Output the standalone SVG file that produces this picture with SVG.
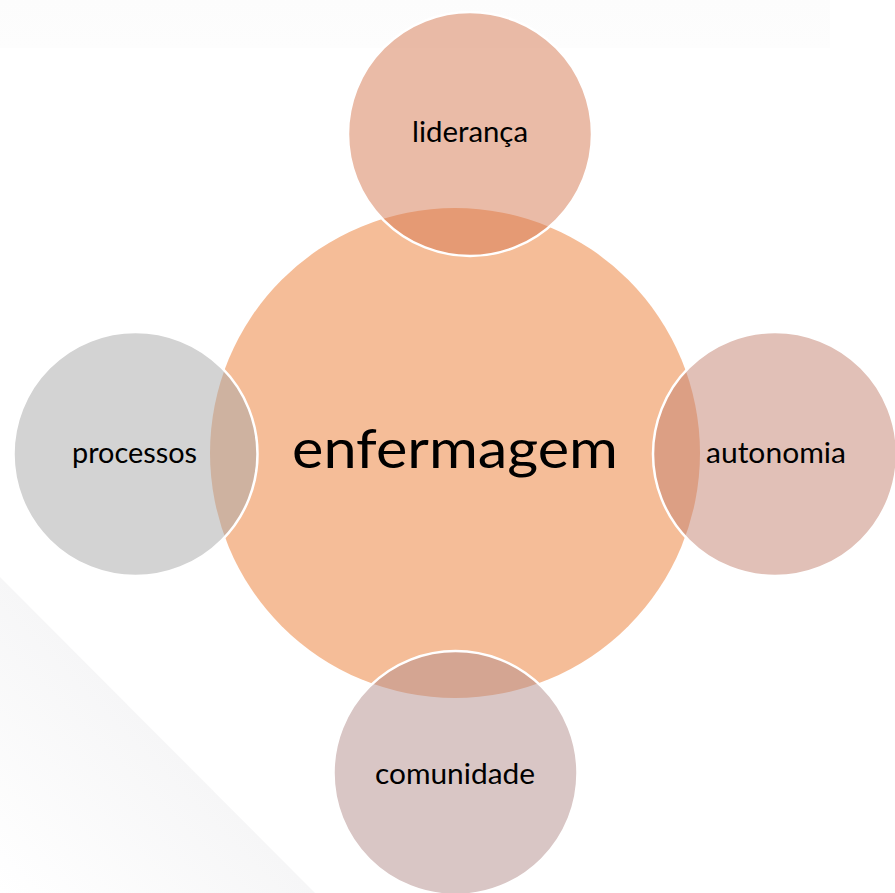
<svg xmlns="http://www.w3.org/2000/svg" width="895" height="893" viewBox="0 0 895 893">
  <defs>
    <linearGradient id="bgDiag" x1="160" y1="735" x2="0" y2="893" gradientUnits="userSpaceOnUse">
      <stop offset="0" stop-color="#f6f6f7"/>
      <stop offset="1" stop-color="#ffffff"/>
    </linearGradient>
    <linearGradient id="bgTop" x1="0" y1="0" x2="0" y2="48" gradientUnits="userSpaceOnUse">
      <stop offset="0" stop-color="#fcfcfc"/>
      <stop offset="1" stop-color="#fdfdfd"/>
    </linearGradient>
    <style>
      .sat { stroke: #ffffff; stroke-width: 2.5; fill-opacity: 0.5; }
      .lbl { font-family: Lato, "Open Sans", "Liberation Sans", sans-serif; font-size: 29px; fill: #000000; text-anchor: middle; }
      .main-lbl { font-family: Lato, "Open Sans", "Liberation Sans", sans-serif; font-size: 54px; fill: #000000; text-anchor: middle; }
    </style>
  </defs>
  <rect x="0" y="0" width="895" height="893" fill="#ffffff"/>
  <rect x="0" y="0" width="830" height="48" fill="url(#bgTop)"/>
  <polygon points="0,577 315,893 0,893" fill="url(#bgDiag)"/>

  <g id="node-enfermagem">
    <circle cx="455" cy="453" r="245" fill="#f5bd98"/>
  </g>
  <g id="node-lideranca">
    <circle class="sat" cx="470" cy="134" r="122" fill="#d5774f"/>
    <text class="lbl" x="470" y="142" textLength="116" lengthAdjust="spacingAndGlyphs">liderança</text>
  </g>
  <g id="node-autonomia">
    <circle class="sat" cx="775" cy="454" r="122" fill="#c3816f"/>
    <text class="lbl" x="776" y="463" textLength="140" lengthAdjust="spacingAndGlyphs">autonomia</text>
  </g>
  <g id="node-comunidade">
    <circle class="sat" cx="455.5" cy="773" r="122" fill="#b38d8b"/>
    <text class="lbl" x="455" y="784" textLength="160" lengthAdjust="spacingAndGlyphs">comunidade</text>
  </g>
  <g id="node-processos">
    <circle class="sat" cx="135.5" cy="454" r="122" fill="#a7a7a7"/>
    <text class="lbl" x="134.5" y="463" textLength="125" lengthAdjust="spacingAndGlyphs">processos</text>
  </g>
  <g id="node-enfermagem-label">
    <text class="main-lbl" x="455" y="468" textLength="326" lengthAdjust="spacingAndGlyphs">enfermagem</text>
  </g>
  <g id="connectors"/>
</svg>
